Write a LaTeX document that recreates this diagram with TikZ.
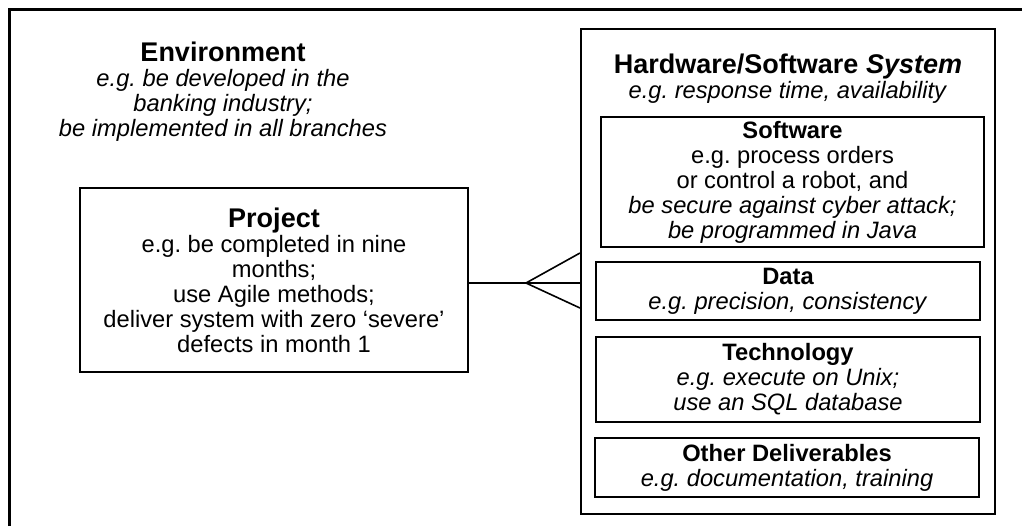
\documentclass[tikz,border=0pt]{standalone}
\usepackage{fontspec}
\setmainfont{Liberation Sans}
\usepackage{tikz}
\frenchspacing

\newcommand{\bigtitle}[1]{{\fontsize{13.5}{14}\selectfont\bfseries #1}}
\newcommand{\boxtitle}[1]{{\bfseries #1}}

\begin{document}
\begin{tikzpicture}[x=0.5pt, y=-0.5pt,
    body/.style={font=\fontsize{11.85}{12.5}\selectfont, align=center},
    box/.style={body, draw, line width=1pt, inner sep=0pt},
    fork/.style={line width=0.8pt}]
    \useasboundingbox (0,0) rectangle (1022,526);

    % Outer frame (cut off on the right and at the bottom)
    \draw[line width=1.5pt] (9.5,526) -- (9.5,9.5) -- (1022,9.5);

    % Environment
    \node[body] (env) at (223,92) {\bigtitle{Environment}\\
        \textit{e.g. be developed in the}\\
        \textit{banking industry;}\\
        \textit{be implemented in all branches}};

    % Project
    \node[box, minimum width=194pt, minimum height=92pt] (proj) at (274,280)
        {\bigtitle{Project}\\
        e.g. be completed in nine\\
        months;\\
        use Agile methods;\\
        deliver system with zero `severe'\\
        defects in month 1};

    % Hardware/Software System and its parts
    \node[box, minimum width=207pt, minimum height=242.5pt] (sys) at (788,271.5) {};
    \node[body] (systitle) at (788,79) {\bigtitle{Hardware/Software \textit{System}}\\
        \textit{e.g. response time, availability}};

    \node[box, minimum width=191.5pt, minimum height=65pt] (soft) at (792.5,182)
        {\boxtitle{Software}\\
        e.g. process orders\\
        or control a robot, and\\
        \textit{be secure against cyber attack;}\\
        \textit{be programmed in Java}};
    \node[box, minimum width=192pt, minimum height=29pt] (data) at (788,291)
        {\boxtitle{Data}\\
        \textit{e.g. precision, consistency}};
    \node[box, minimum width=192pt, minimum height=42.5pt] (tech) at (788,379.5)
        {\boxtitle{Technology}\\
        \textit{e.g. execute on Unix;}\\
        \textit{use an SQL database}};
    \node[box, minimum width=192pt, minimum height=29.5pt] (other) at (787,467.5)
        {\boxtitle{Other Deliverables}\\
        \textit{e.g. documentation, training}};

    % Crow's foot from Project to System
    \coordinate (forkpt) at (526,283);
    \draw[fork] (proj.east |- forkpt) -- (forkpt);
    \foreach \dy in {15pt,0pt,-12.5pt}
        \draw[fork] (forkpt) -- ([yshift=\dy]sys.west |- forkpt);
\end{tikzpicture}
\end{document}
